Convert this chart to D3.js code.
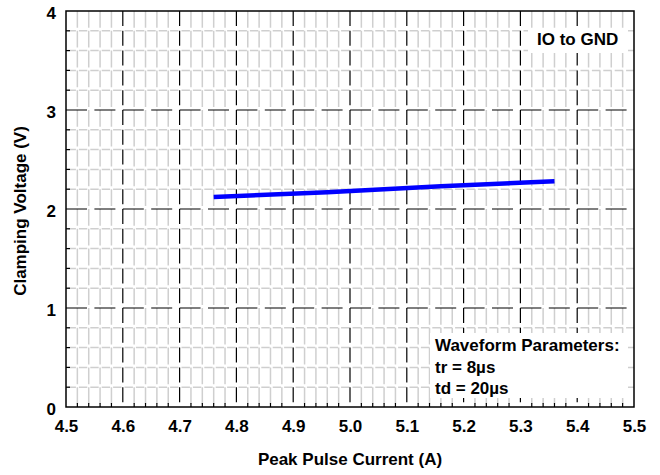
<!doctype html>
<html>
  <head>
    <script src="https://cdnjs.cloudflare.com/ajax/libs/d3/7.8.5/d3.min.js"></script>
    <style>
      body { margin: 0; background: #fff; }
      text { font-family: "Liberation Sans", Arial, sans-serif; font-weight: bold; }
    </style>
  </head>
<body>
  <svg id="chart" width="660" height="475"></svg>
  <script>
    // clamping curve
    var current = [4.76, 4.96, 5.16, 5.36];
    var voltage = [2.12, 2.17, 2.23, 2.28];
    var xTicks = [4.5, 4.6, 4.7, 4.8, 4.9, 5.0, 5.1, 5.2, 5.3, 5.4, 5.5];
    var yTicks = [0, 1, 2, 3, 4];
    var noteLines = ["Waveform Parameters:", "tr = 8\u00b5s", "td = 20\u00b5s"];

    var svg = d3.select("#chart");
    var pL = 66, pR = 634, pT = 11, pB = 407;

    var x = d3.scaleLinear().domain([4.5, 5.5]).range([pL, pR]);
    var y = d3.scaleLinear().domain([0, 4]).range([pB, pT]);

    var xMinor = d3.range(0, 51).map(i => 4.5 + i * 0.02).filter((d, i) => i % 5 != 0);
    var yMinor = d3.range(0, 21).map(i => i * 0.2).filter((d, i) => i % 5 != 0);

    var grid = svg.append("g");

    // minor grid, light grey dashes
    grid.selectAll(".vmin").data(xMinor).enter().append("line")
      .attr("x1", d => x(d)).attr("x2", d => x(d))
      .attr("y1", pT).attr("y2", pB)
      .style("stroke", "#cfcfcf").style("stroke-width", 1.5)
      .style("stroke-dasharray", "16.8,3");
    grid.selectAll(".hmin").data(yMinor).enter().append("line")
      .attr("x1", pL).attr("x2", pR)
      .attr("y1", d => y(d)).attr("y2", d => y(d))
      .style("stroke", "#cfcfcf").style("stroke-width", 1.5)
      .style("stroke-dasharray", "8.4,3")
      .style("stroke-dashoffset", -1.5);

    // major grid, black dashes
    grid.selectAll(".vmaj").data(xTicks.slice(1, -1)).enter().append("line")
      .attr("x1", d => x(d)).attr("x2", d => x(d))
      .attr("y1", pT).attr("y2", pB)
      .style("stroke", "#000").style("stroke-width", 1.2)
      .style("stroke-dasharray", "15,4.8");
    grid.selectAll(".hmaj").data(yTicks.slice(1, -1)).enter().append("line")
      .attr("x1", pL).attr("x2", pR)
      .attr("y1", d => y(d)).attr("y2", d => y(d))
      .style("stroke", "#000").style("stroke-width", 1.2)
      .style("stroke-dasharray", "21,7.4");

    // inner minor ticks on the frame
    grid.selectAll(".xt").data(xMinor).enter().append("line")
      .attr("x1", d => x(d)).attr("x2", d => x(d))
      .attr("y1", pB).attr("y2", pB - 4)
      .style("stroke", "#000").style("stroke-width", 1.2);
    grid.selectAll(".yt").data(yMinor).enter().append("line")
      .attr("x1", pL).attr("x2", pL + 4)
      .attr("y1", d => y(d)).attr("y2", d => y(d))
      .style("stroke", "#000").style("stroke-width", 1.2);

    // note boxes
    svg.append("rect").attr("x", 528).attr("y", 29).attr("width", 100).attr("height", 24)
      .style("fill", "#fff");
    svg.append("text").attr("x", 537).attr("y", 45).style("font-size", "17px")
      .text("IO to GND");

    svg.append("rect").attr("x", 430).attr("y", 333).attr("width", 198).attr("height", 65)
      .style("fill", "#fff");
    svg.append("g").selectAll("text").data(noteLines).enter().append("text")
      .attr("x", 435).attr("y", (d, i) => 351 + i * 21.5)
      .style("font-size", "17px")
      .text(d => d);

    // curve
    var pts = current.map((c, i) => [c, voltage[i]]);
    svg.append("path").datum(pts)
      .attr("d", d3.line().x(d => x(d[0])).y(d => y(d[1])))
      .style("fill", "none").style("stroke", "#0000ff").style("stroke-width", 4.5);

    // frame
    svg.append("rect").attr("x", pL).attr("y", pT)
      .attr("width", pR - pL).attr("height", pB - pT)
      .style("fill", "none").style("stroke", "#000").style("stroke-width", 1.5);

    // axes labels
    var xAxis = svg.append("g").attr("transform", "translate(0," + pB + ")")
      .call(d3.axisBottom(x).tickValues(xTicks).tickSize(0).tickPadding(13).tickFormat(d3.format(".1f")));
    var yAxis = svg.append("g").attr("transform", "translate(" + pL + ",0)")
      .call(d3.axisLeft(y).tickValues(yTicks).tickSize(0).tickPadding(10).tickFormat(d3.format("d")));
    [xAxis, yAxis].forEach(a => {
      a.select(".domain").remove();
      a.selectAll("text").style("font-size", "17px").style("fill", "#000")
        .style("font-family", "'Liberation Sans', Arial, sans-serif");
    });
    yAxis.selectAll("text").attr("dy", "0.42em").attr("x", -10);

    svg.append("text").attr("x", 350).attr("y", 465).attr("text-anchor", "middle")
      .style("font-size", "17px").text("Peak Pulse Current (A)");
    svg.append("text").attr("transform", "translate(26,211) rotate(-90)")
      .attr("text-anchor", "middle").style("font-size", "17px")
      .text("Clamping Voltage (V)");
  </script>
</body>
</html>
